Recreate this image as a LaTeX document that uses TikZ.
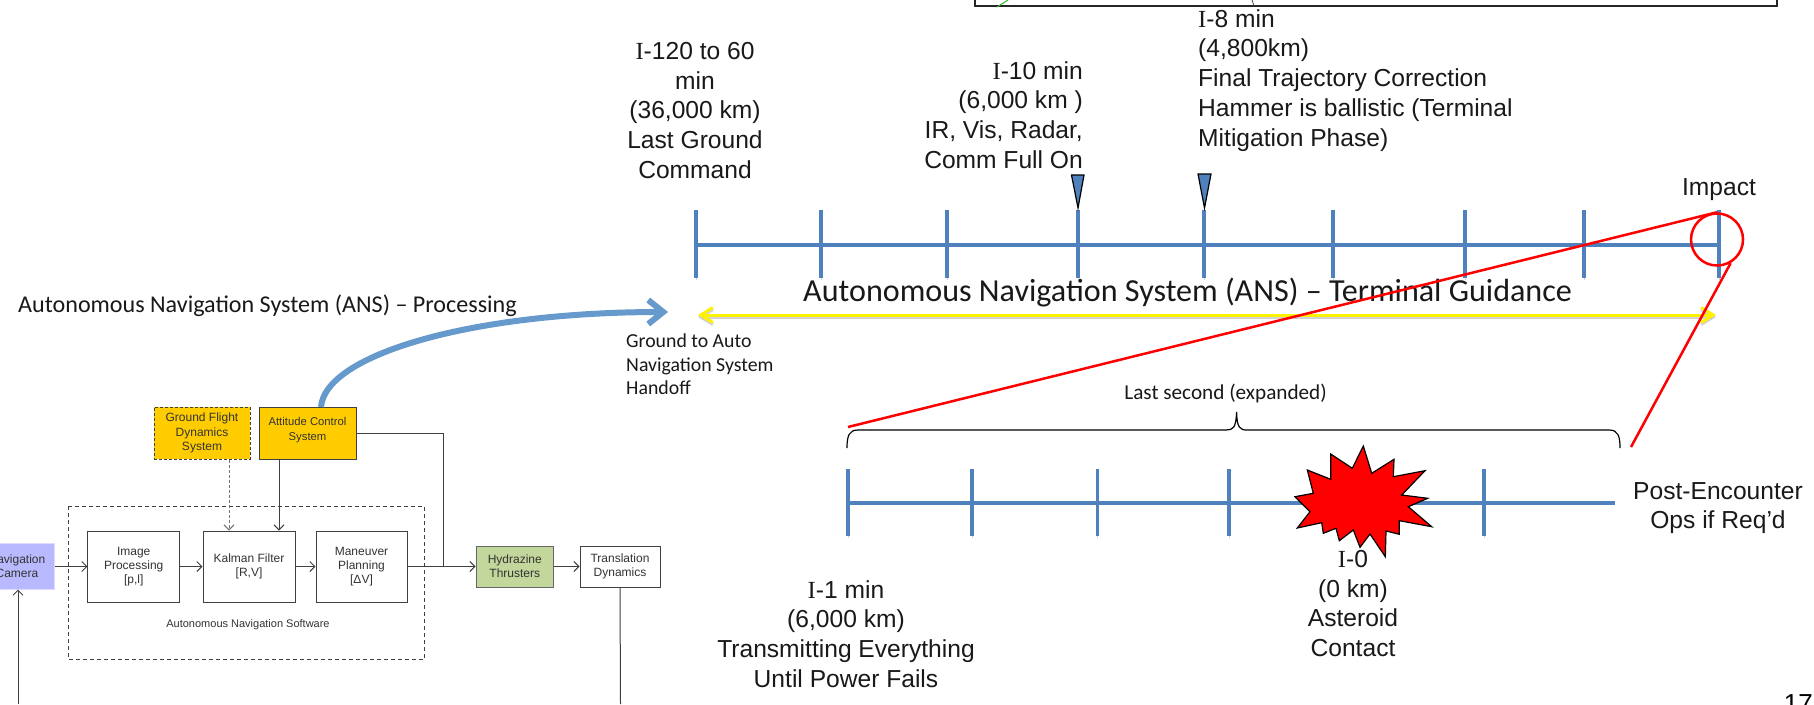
\documentclass[tikz,border=0pt]{standalone}
\usepackage{fontspec}
\setmainfont{Liberation Sans}
\newfontfamily\calfont{Carlito}
\newfontfamily\serfont{Liberation Serif}
\usetikzlibrary{arrows.meta,calc}
\definecolor{tlblue}{HTML}{4F81BD}
\definecolor{curveblue}{HTML}{6699CC}
\definecolor{amber}{HTML}{FFCC00}
\definecolor{hydgreen}{HTML}{C3D69B}
\definecolor{camblue}{HTML}{B9B9FF}
\definecolor{wire}{HTML}{404040}
\newcommand{\Iser}{{\serfont I}}
\tikzset{
  x=1pt,y=-1pt,
  bigtext/.style={inner sep=0pt,font=\fontsize{24.6}{29.8}\selectfont,text=black!90},
  caltext/.style={inner sep=0pt,font=\calfont\fontsize{19.8}{23.5}\selectfont,text=black!90},
  shade line/.style={preaction={draw=black!35,opacity=.5,transform canvas={yshift=-1.6pt}}},
  tlline/.style={draw=tlblue,line width=#1,shade line},
  tlline/.default=3pt,
  blockbox/.style={draw=wire,line width=1pt,inner sep=0pt,align=center,
    font=\fontsize{12}{14.3}\selectfont,text=black!80},
  conn/.style={draw=wire,line width=1pt,-{Straight Barb[length=5pt,width=10pt]}},
  plainconn/.style={draw=wire,line width=1pt},
  redline/.style={draw=red,line width=2.5pt},
  marker/.style={draw=black,fill=tlblue,line width=1.2pt},
}
\begin{document}
\begin{tikzpicture}
\path[use as bounding box,clip] (0,0) rectangle (1814,704);
\fill[white] (0,0) rectangle (1814,704);

% fragment of a box at the top
\draw[black!85,line width=1.5pt] (975,-3) -- (975,6) -- (1777,6) -- (1777,-3);
\draw[black!70,line width=.8pt] (1252,0) -- (1254,6);
\draw[green!65!black!80,line width=1pt] (997,7) -- (1008,0);

% main timeline
\draw[tlline=4pt] (696,244.5) -- (1719,244.5);
\foreach \tx in {696,821,947,1078,1204,1333,1465,1584,1719}
  \draw[tlline=3.5pt] (\tx,210) -- (\tx,278);
\draw[marker] (1071.5,175) -- (1084,175) -- (1078,208) -- cycle;
\draw[marker] (1198,174) -- (1211,174) -- (1204.5,208) -- cycle;

% labels above
\node[bigtext,align=center,anchor=north] (lgc) at (695,42)
  {\Iser-120 to 60\\min\\(36,000 km)\\Last Ground\\Command};
\node[bigtext,align=right,anchor=north east] (ten) at (1083,61)
  {\Iser-10 min\\(6,000 km )\\IR, Vis, Radar,\\Comm Full On};
\node[bigtext,align=left,anchor=north west] (eight) at (1198,9)
  {\Iser-8 min\\(4,800km)\\Final Trajectory Correction\\Hammer is ballistic (Terminal\\Mitigation Phase)};
\node[bigtext,anchor=base] (impact) at (1719,195) {Impact};

% titles
\node[inner sep=0pt,anchor=base west,font=\calfont\fontsize{32.1}{36}\selectfont,text=black!90] (title) at (803,301)
  {Autonomous Navigation System (ANS) – Terminal Guidance};
\node[inner sep=0pt,anchor=base west,font=\calfont\fontsize{24.1}{28}\selectfont,text=black!90] (proc) at (18,312)
  {Autonomous Navigation System (ANS) – Processing};
\node[caltext,align=left,anchor=north west] (handoff) at (626,334)
  {Ground to Auto\\Navigation System\\Handoff};

% yellow span
\coordinate (ya) at (698,315);
\coordinate (yb) at (1716,315);
\draw[draw=black!35,opacity=.5,line width=3pt,{Straight Barb[length=12pt,width=15pt]}-{Straight Barb[length=12pt,width=15pt]}] ($(ya)+(0,2)$) -- ($(yb)+(0,2)$);
\draw[draw=yellow,line width=3pt,{Straight Barb[length=12pt,width=15pt]}-{Straight Barb[length=12pt,width=15pt]}] (ya) -- (yb);

% zoom lines
\node[draw=red,line width=2.5pt,circle,minimum size=52pt,inner sep=0pt] (zoomc) at (1717,239.5) {};
\coordinate (zl) at (848,427);
\coordinate (zr) at (1631,447);
\draw[redline] (zl) -- (zoomc.north);
\draw[redline] (zr) -- (zoomc.-60);

% brace
\draw[black,line width=1.2pt] (847,448) .. controls (847,436) and (849,430) .. (858,430)
  -- (1226,430) .. controls (1233,430) and (1236,428) .. (1236.6,412)
  .. controls (1237,428) and (1240,430) .. (1247,430)
  -- (1609,430) .. controls (1618,430) and (1620,436) .. (1620,448);
\node[inner sep=0pt,font=\calfont\fontsize{21.2}{25}\selectfont,text=black!90,anchor=base] (lastsec) at (1225.6,399) {Last second (expanded)};

% lower timeline
\draw[tlline=4pt] (848,503) -- (1615,503);
\foreach \tx in {848,972,1097.5,1229,1484}
  \draw[tlline=3.5pt] (\tx,469) -- (\tx,536);

% burst
\draw[draw=black,fill=red,line width=1.2pt]
  (1363.3,446) -- (1371.7,473.3) -- (1394,459.3) -- (1393.3,476.7) -- (1425,470.7) -- (1401.7,495)
  -- (1427.7,498.3) -- (1408.3,506.7) -- (1431.7,526.7) -- (1399.3,520.7) -- (1399.3,534.3)
  -- (1386,531) -- (1385.3,556.7) -- (1370,534) -- (1360,547.3) -- (1353.3,530) -- (1339.3,540.7)
  -- (1336,528.3) -- (1323.3,533.3) -- (1321.7,522.7) -- (1297.3,528) -- (1310,511.7) -- (1295,496.7)
  -- (1313.3,493.3) -- (1307.3,470) -- (1330.7,479.3) -- (1330.7,454) -- (1352.3,468.3) -- cycle;

% labels below
\node[bigtext,align=center,anchor=north] (izero) at (1353,550)
  {\Iser-0\\(0 km)\\Asteroid\\Contact};
\node[bigtext,align=center,anchor=north] (ione) at (846,580)
  {\Iser-1 min\\(6,000 km)\\Transmitting Everything\\Until Power Fails};
\node[bigtext,align=center,anchor=north] (post) at (1718,482)
  {Post-Encounter\\Ops if Req’d};
\node[inner sep=0pt,anchor=base east,font=\fontsize{26}{30}\selectfont] (pg) at (1813,712) {17};

% block diagram
\draw[wire,line width=1pt,dashed,dash pattern=on 4pt off 3pt] (68,506) rectangle (424.5,659);
\node[blockbox,fill=amber,dashed,dash pattern=on 3pt off 2pt,minimum width=96pt,minimum height=52pt] (gfd) at (202,433) {Ground Flight\\Dynamics\\System};
\node[blockbox,fill=amber,font=\fontsize{11.3}{15.5}\selectfont,minimum width=97pt,minimum height=52pt] (acs) at (307.5,433) {\raisebox{8pt}{\shortstack{Attitude Control\\[3.5pt]System}}};
\node[blockbox,minimum width=91.5pt,minimum height=71pt] (img) at (133.7,566.5) {Image\\Processing\\{[p,l]}};
\node[blockbox,minimum width=92pt,minimum height=71pt] (kal) at (249,566.5) {Kalman Filter\\{[R,V]}};
\node[blockbox,minimum width=91pt,minimum height=71pt] (man) at (361.5,566.5) {Maneuver\\Planning\\{[ΔV]}};
\node[blockbox,fill=hydgreen,draw=black!60,minimum width=77.5pt,minimum height=41pt] (hyd) at (514.8,566.5) {Hydrazine\\Thrusters};
\node[blockbox,minimum width=80pt,minimum height=41pt] (tra) at (620,566.5) {Translation\\Dynamics};
\node[blockbox,fill=camblue,draw=camblue!50,minimum width=74pt,minimum height=46pt] (cam) at (17,566) {Navigation\\Camera};
\node[inner sep=0pt,font=\fontsize{11}{13}\selectfont,text=black!80,anchor=base] (ans) at (248,627) {Autonomous Navigation Software};

\coordinate (joint) at (443,567);
\coordinate (camfeed) at (18,704);
\coordinate (trafeed) at (620.5,704);
\draw[conn] (cam.east |- img.west) -- (img.west);
\draw[conn] (img.east) -- (kal.west);
\draw[conn] (kal.east) -- (man.west);
\draw[conn] (man.east) -- (hyd.west);
\draw[plainconn] (acs.east) -| (joint);
\draw[conn] (acs.south -| 279,0) -- (kal.north -| 279,0);
\draw[conn,dashed,dash pattern=on 3pt off 2pt,draw=black!55] (gfd.south -| 229,0) -- (kal.north -| 229,0);
\draw[conn] (hyd.east) -- (tra.west);
\draw[plainconn] (tra.south) -- (trafeed);
\draw[conn] (camfeed) -- (camfeed |- cam.south);

% blue handoff curve
\coordinate (hb) at (668,312);
\draw[draw=curveblue,line width=6pt,-{Straight Barb[length=15pt,width=24pt]}] (321,407) .. controls (325,355) and (470,312) .. (hb);
\end{tikzpicture}
\end{document}
